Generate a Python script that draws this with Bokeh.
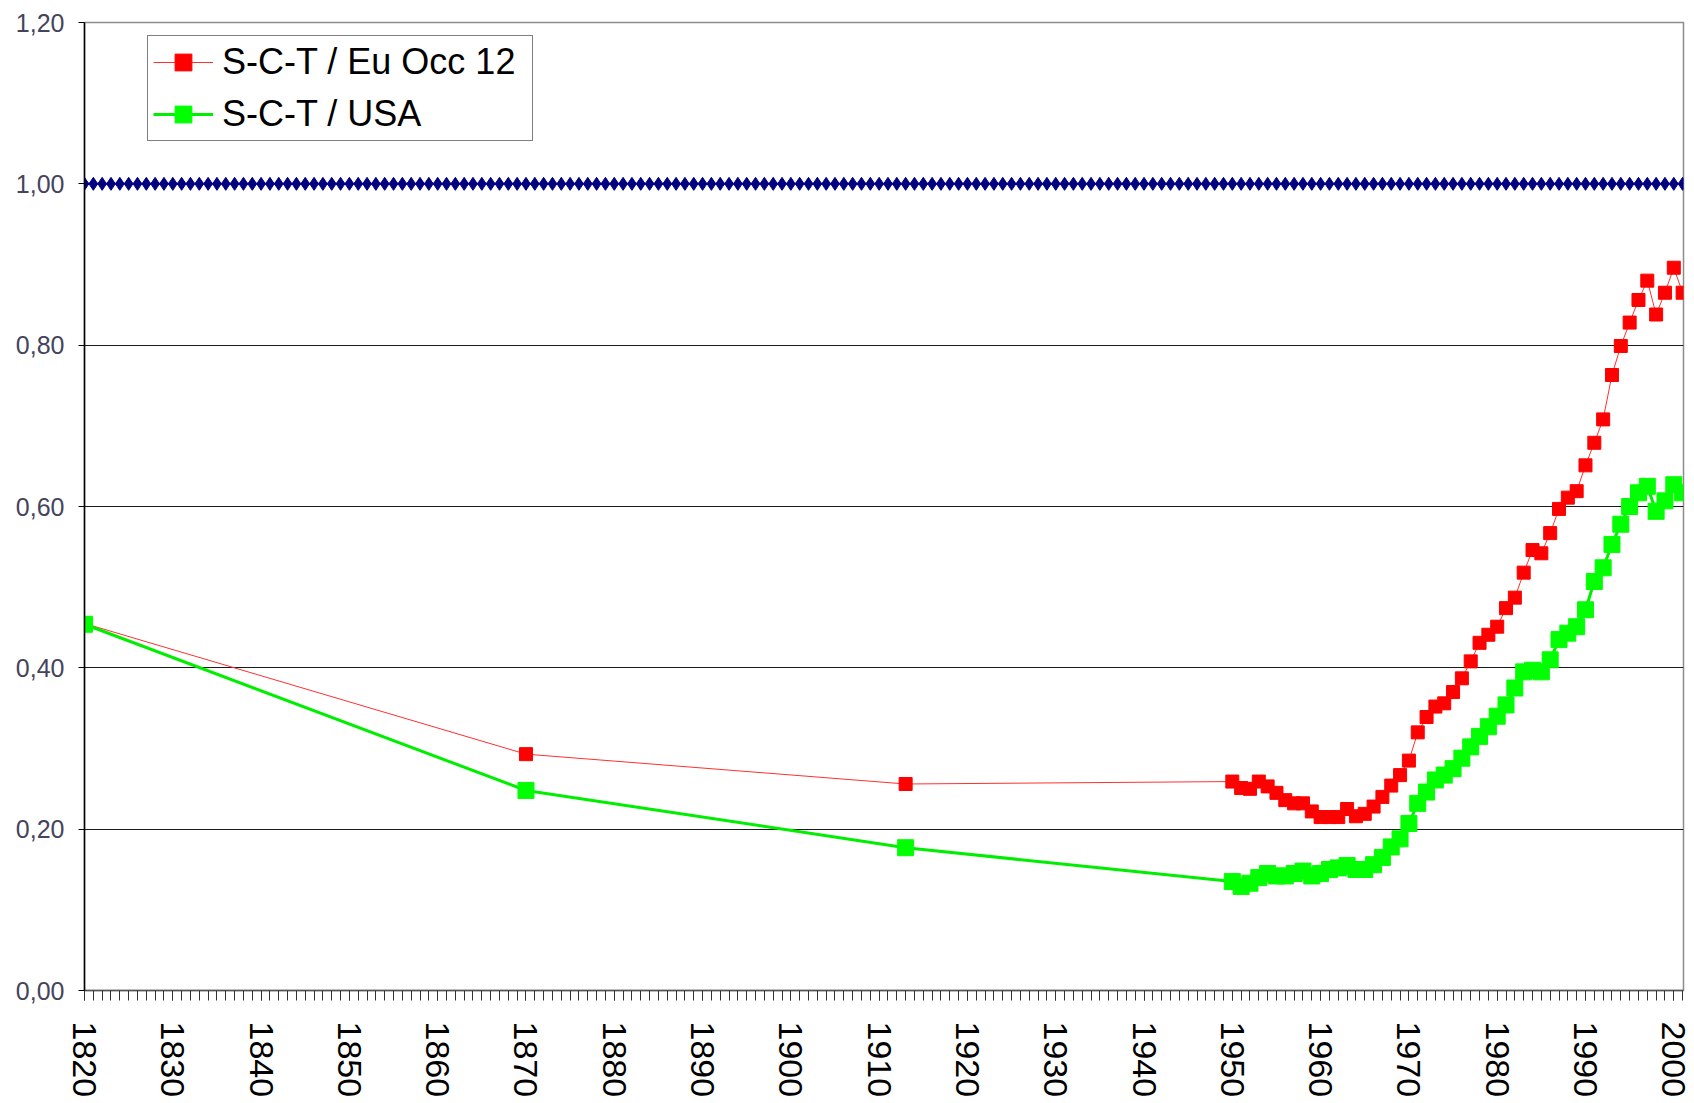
from bokeh.plotting import figure
from bokeh.models import Range1d, FixedTicker, CustomJSTickFormatter, Legend, LegendItem
from bokeh.embed import file_html
from bokeh.resources import INLINE

# ---- data ----
ref_years = list(range(1820, 2002))
ref_values = [1.0] * len(ref_years)

years = [1820, 1870, 1913] + list(range(1950, 2002))

eu_occ12 = [0.455, 0.293, 0.256,
            0.259, 0.251, 0.250, 0.259, 0.253, 0.245, 0.236, 0.232, 0.232, 0.222,
            0.215, 0.215, 0.215, 0.225, 0.216, 0.219, 0.228, 0.240, 0.254, 0.267,
            0.285, 0.320, 0.339, 0.352, 0.356, 0.370, 0.387, 0.408, 0.431, 0.441,
            0.451, 0.474, 0.487, 0.518, 0.546, 0.542, 0.567, 0.597, 0.611, 0.619,
            0.651, 0.679, 0.708, 0.763, 0.799, 0.828, 0.856, 0.880, 0.838, 0.865,
            0.896, 0.865]

usa = [0.454, 0.248, 0.177,
       0.135, 0.129, 0.133, 0.140, 0.145, 0.142, 0.142, 0.145, 0.148, 0.142,
       0.145, 0.150, 0.152, 0.155, 0.150, 0.150, 0.156, 0.165, 0.178, 0.188,
       0.207, 0.232, 0.246, 0.261, 0.267, 0.275, 0.288, 0.302, 0.315, 0.327,
       0.340, 0.354, 0.375, 0.395, 0.397, 0.395, 0.410, 0.435, 0.443, 0.451,
       0.472, 0.507, 0.524, 0.553, 0.578, 0.600, 0.617, 0.625, 0.594, 0.607,
       0.627, 0.617]

y_ticks = [0.0, 0.2, 0.4, 0.6, 0.8, 1.0, 1.2]
x_label_ticks = [1820, 1830, 1840, 1850, 1860, 1870, 1880, 1890, 1900, 1910,
                 1920, 1930, 1940, 1950, 1960, 1970, 1980, 1990, 2000]

p = figure(width=1694, height=1103, output_backend="svg", toolbar_location=None,
           x_range=Range1d(1820, 2001.1), y_range=Range1d(0, 1.2))
p.min_border_left = 84
p.min_border_right = 11
p.min_border_top = 22
p.min_border_bottom = 113
p.background_fill_color = "white"
p.border_fill_color = "white"
p.outline_line_color = "#8c8c8c"
p.outline_line_width = 1.5

# axes
p.xaxis.ticker = FixedTicker(ticks=x_label_ticks, minor_ticks=ref_years)
p.xaxis.major_label_orientation = "vertical"
p.xaxis.major_label_text_font = "Liberation Sans"
p.xaxis.major_label_text_font_size = "34px"
p.xaxis.major_label_text_color = "black"
p.xaxis.major_label_standoff = 21
p.xaxis.major_tick_out = 10
p.xaxis.major_tick_in = 0
p.xaxis.minor_tick_out = 10
p.xaxis.minor_tick_in = 0
p.xaxis.axis_line_color = "#555555"
p.xaxis.major_tick_line_color = "#333333"
p.xaxis.minor_tick_line_color = "#333333"
p.xaxis.axis_line_width = 1.5

p.yaxis.ticker = FixedTicker(ticks=y_ticks)
p.yaxis.formatter = CustomJSTickFormatter(code="return tick.toFixed(2).replace('.', ',');")
p.yaxis.major_label_text_font = "Liberation Sans"
p.yaxis.major_label_text_font_size = "25px"
p.yaxis.major_label_text_color = "#44445c"
p.yaxis.major_label_standoff = 14
p.yaxis.major_tick_out = 6
p.yaxis.major_tick_in = 0
p.yaxis.minor_tick_line_color = None
p.yaxis.axis_line_color = "black"
p.yaxis.axis_line_width = 1.5

p.xgrid.grid_line_color = None
p.ygrid.ticker = FixedTicker(ticks=y_ticks[1:-1])
p.ygrid.grid_line_color = "#1a1a1a"
p.ygrid.grid_line_width = 1.2

# reference line 1.00
p.line(ref_years, ref_values, line_color="#000080", line_width=2)
p.scatter(ref_years, ref_values, marker="diamond", size=13,
          fill_color="#000080", line_color="#000080")

# series
r_line = p.line(years, eu_occ12, line_color="#ff3030", line_width=1)
r_sq = p.scatter(years, eu_occ12, marker="square", size=13,
                 fill_color="#ff0000", line_color="#ff0000")
g_line = p.line(years, usa, line_color="#00ee00", line_width=3)
g_sq = p.scatter(years, usa, marker="square", size=16,
                 fill_color="#00ff00", line_color="#00ff00")

legend = Legend(items=[
    LegendItem(label="S-C-T / Eu Occ 12", renderers=[r_line, r_sq]),
    LegendItem(label="S-C-T / USA", renderers=[g_line, g_sq]),
], location=(63, 849))
legend.label_text_font = "Liberation Sans"
legend.label_text_font_size = "36px"
legend.label_text_color = "black"
legend.glyph_width = 60
legend.glyph_height = 42
legend.label_standoff = 9
legend.label_height = 42
legend.label_width = 305
legend.spacing = 10
legend.padding = 5
legend.margin = 0
legend.border_line_color = "black"
legend.border_line_width = 1.5
legend.background_fill_color = "white"
legend.background_fill_alpha = 1
p.add_layout(legend)

open("out.html", "w").write(file_html(p, INLINE))
